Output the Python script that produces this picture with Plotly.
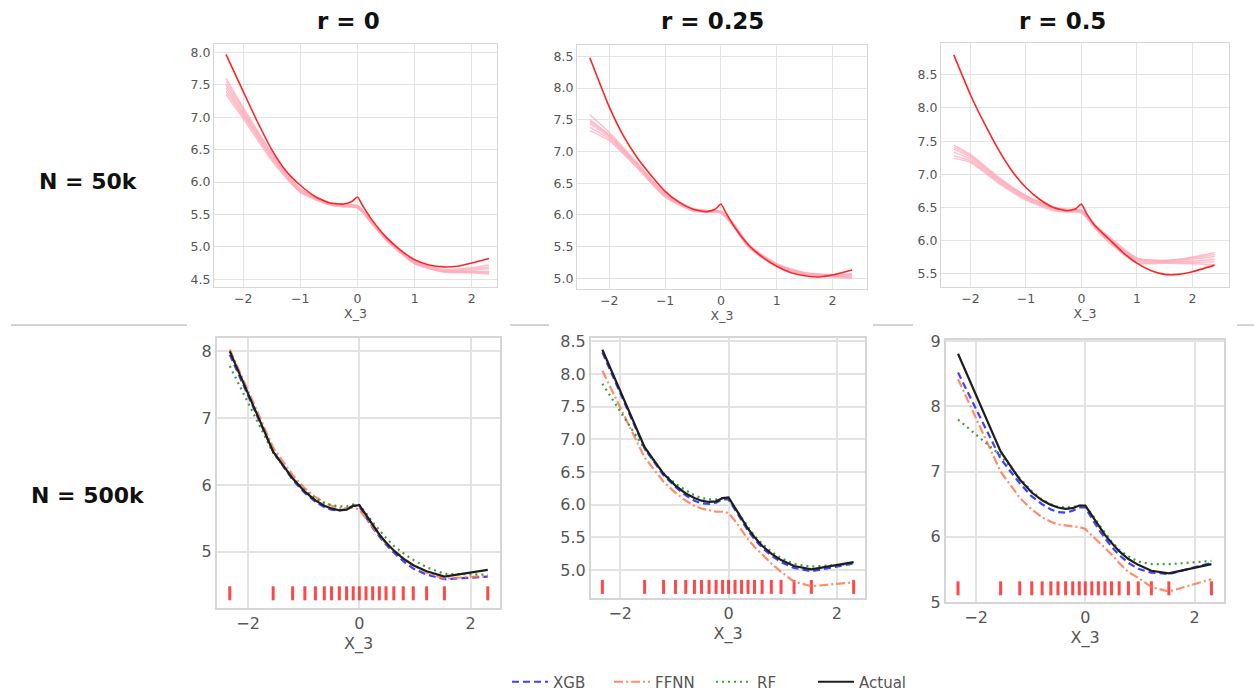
import plotly.graph_objects as go

W, H = 1254, 694

# ---------------- data ----------------
col_titles = ["r = 0", "r = 0.25", "r = 0.5"]
row_titles = ["N = 50k", "N = 500k"]
x_label = "X_3"

# top row: actual (red) curves
top_x = [
    [-2.3, -2.0, -1.75, -1.5, -1.25, -1.0, -0.75, -0.5, -0.25, -0.1, 0.0, 0.1, 0.25, 0.5, 0.75, 1.0, 1.25, 1.5, 1.75, 2.0, 2.3],
    [-2.35, -2.0, -1.75, -1.5, -1.25, -1.0, -0.75, -0.5, -0.25, -0.1, 0.0, 0.1, 0.25, 0.5, 0.75, 1.0, 1.25, 1.5, 1.75, 2.0, 2.35],
    [-2.3, -2.0, -1.75, -1.5, -1.25, -1.0, -0.75, -0.5, -0.25, -0.1, 0.0, 0.1, 0.25, 0.5, 0.75, 1.0, 1.25, 1.5, 1.75, 2.0, 2.4],
]
top_actual = [
    [7.97, 7.40, 6.93, 6.50, 6.17, 5.95, 5.78, 5.68, 5.66, 5.70, 5.77, 5.62, 5.42, 5.15, 4.95, 4.80, 4.72, 4.69, 4.70, 4.75, 4.82],
    [8.48, 7.70, 7.25, 6.90, 6.62, 6.37, 6.20, 6.09, 6.05, 6.09, 6.17, 6.02, 5.80, 5.52, 5.33, 5.19, 5.09, 5.04, 5.02, 5.05, 5.13],
    [8.80, 8.20, 7.77, 7.38, 7.05, 6.80, 6.62, 6.50, 6.45, 6.48, 6.55, 6.40, 6.22, 6.02, 5.82, 5.66, 5.55, 5.49, 5.49, 5.53, 5.63],
]

# top row: model (pink) curves
pink_x = [
    [-2.3, -2.0, -1.5, -1.0, -0.5, -0.25, 0.0, 0.25, 0.5, 1.0, 1.5, 2.0, 2.3],
    [-2.35, -2.0, -1.5, -1.0, -0.5, -0.25, 0.0, 0.25, 0.5, 1.0, 1.5, 2.0, 2.35],
    [-2.3, -2.0, -1.5, -1.0, -0.5, -0.25, 0.0, 0.25, 0.5, 1.0, 1.5, 2.0, 2.4],
]
pink_p1 = [
    [7.60, 7.15, 6.45, 5.90, 5.68, 5.65, 5.64, 5.40, 5.15, 4.78, 4.65, 4.68, 4.72],
    [7.50, 7.08, 6.40, 5.88, 5.67, 5.64, 5.62, 5.38, 5.12, 4.76, 4.63, 4.64, 4.66],
    [7.45, 7.05, 6.38, 5.86, 5.66, 5.63, 5.60, 5.37, 5.12, 4.75, 4.62, 4.62, 4.62],
    [7.40, 7.02, 6.36, 5.85, 5.66, 5.62, 5.60, 5.36, 5.10, 4.74, 4.61, 4.60, 4.58],
    [7.55, 7.12, 6.43, 5.89, 5.68, 5.66, 5.63, 5.40, 5.14, 4.77, 4.64, 4.66, 4.69],
    [7.35, 6.98, 6.33, 5.84, 5.65, 5.62, 5.61, 5.36, 5.11, 4.74, 4.62, 4.61, 4.60],
]
pink_p2 = [
    [7.58, 7.30, 6.82, 6.34, 6.10, 6.07, 6.06, 5.84, 5.53, 5.23, 5.09, 5.06, 5.07],
    [7.50, 7.26, 6.80, 6.32, 6.09, 6.06, 6.05, 5.82, 5.51, 5.22, 5.08, 5.05, 5.05],
    [7.44, 7.23, 6.78, 6.31, 6.08, 6.06, 6.04, 5.81, 5.50, 5.21, 5.07, 5.04, 5.03],
    [7.38, 7.20, 6.76, 6.29, 6.07, 6.05, 6.04, 5.80, 5.49, 5.20, 5.07, 5.03, 5.01],
    [7.33, 7.17, 6.74, 6.28, 6.06, 6.04, 6.03, 5.79, 5.48, 5.19, 5.06, 5.02, 5.00],
    [7.47, 7.25, 6.79, 6.32, 6.09, 6.06, 6.05, 5.82, 5.51, 5.22, 5.08, 5.05, 5.06],
]
pink_p3 = [
    [7.44, 7.30, 6.96, 6.68, 6.50, 6.47, 6.46, 6.24, 6.06, 5.74, 5.70, 5.75, 5.82],
    [7.38, 7.26, 6.93, 6.66, 6.49, 6.46, 6.45, 6.22, 6.03, 5.72, 5.69, 5.72, 5.76],
    [7.33, 7.23, 6.91, 6.64, 6.48, 6.45, 6.44, 6.20, 6.01, 5.70, 5.68, 5.69, 5.72],
    [7.28, 7.20, 6.89, 6.63, 6.47, 6.44, 6.43, 6.19, 5.99, 5.68, 5.67, 5.67, 5.68],
    [7.24, 7.18, 6.87, 6.61, 6.45, 6.43, 6.42, 6.18, 5.97, 5.66, 5.66, 5.65, 5.64],
    [7.41, 7.28, 6.94, 6.67, 6.50, 6.47, 6.45, 6.23, 6.04, 5.73, 5.70, 5.74, 5.79],
]
top_pink = [pink_p1, pink_p2, pink_p3]

# bottom row: grid points (also shown as rug ticks)
grid_x = [-2.33, -1.55, -1.20, -0.98, -0.79, -0.63, -0.50, -0.36, -0.23, -0.11, 0.0,
          0.12, 0.24, 0.36, 0.48, 0.62, 0.79, 0.97, 1.21, 1.53, 2.31]
rug_level = [4.38, 4.74, 5.21]

series_names = ["XGB", "FFNN", "RF", "Actual"]
xgb = [
    [7.95, 6.50, 6.08, 5.88, 5.75, 5.67, 5.63, 5.62, 5.64, 5.69, 5.68, 5.52, 5.36, 5.23, 5.11, 4.99, 4.86, 4.75, 4.66, 4.59, 4.63],
    [8.33, 6.86, 6.45, 6.27, 6.14, 6.06, 6.02, 6.01, 6.03, 6.08, 6.08, 5.92, 5.75, 5.60, 5.47, 5.34, 5.22, 5.12, 5.03, 4.98, 5.10],
    [8.52, 7.20, 6.82, 6.62, 6.50, 6.42, 6.38, 6.37, 6.40, 6.45, 6.45, 6.28, 6.12, 5.98, 5.85, 5.72, 5.60, 5.51, 5.45, 5.43, 5.60],
]
ffnn = [
    [8.03, 6.56, 6.15, 5.95, 5.82, 5.74, 5.69, 5.66, 5.65, 5.66, 5.63, 5.50, 5.36, 5.24, 5.13, 5.02, 4.91, 4.80, 4.69, 4.60, 4.64],
    [8.05, 6.72, 6.35, 6.18, 6.06, 5.98, 5.94, 5.91, 5.89, 5.89, 5.87, 5.75, 5.60, 5.47, 5.35, 5.23, 5.10, 4.97, 4.82, 4.75, 4.81],
    [8.42, 7.00, 6.60, 6.42, 6.30, 6.23, 6.19, 6.17, 6.16, 6.15, 6.12, 6.02, 5.93, 5.83, 5.73, 5.60, 5.46, 5.37, 5.23, 5.16, 5.35],
]
rf = [
    [7.78, 6.48, 6.10, 5.92, 5.80, 5.73, 5.70, 5.68, 5.68, 5.71, 5.70, 5.58, 5.44, 5.32, 5.21, 5.09, 4.98, 4.88, 4.77, 4.67, 4.66],
    [7.85, 6.85, 6.48, 6.32, 6.22, 6.14, 6.10, 6.08, 6.08, 6.10, 6.08, 5.95, 5.80, 5.65, 5.52, 5.40, 5.28, 5.18, 5.09, 5.05, 5.09],
    [7.80, 7.25, 6.90, 6.70, 6.57, 6.50, 6.46, 6.45, 6.46, 6.48, 6.47, 6.35, 6.20, 6.06, 5.93, 5.80, 5.70, 5.62, 5.58, 5.58, 5.63],
]
actual = [
    [8.00, 6.50, 6.10, 5.90, 5.77, 5.69, 5.65, 5.62, 5.63, 5.69, 5.70, 5.55, 5.39, 5.26, 5.14, 5.02, 4.90, 4.80, 4.71, 4.63, 4.73],
    [8.37, 6.88, 6.47, 6.29, 6.17, 6.10, 6.06, 6.04, 6.05, 6.10, 6.11, 5.95, 5.78, 5.63, 5.50, 5.37, 5.25, 5.15, 5.06, 5.01, 5.12],
    [8.81, 7.31, 6.88, 6.68, 6.56, 6.49, 6.45, 6.43, 6.44, 6.48, 6.48, 6.33, 6.17, 6.03, 5.91, 5.78, 5.66, 5.57, 5.48, 5.44, 5.58],
]

# ---------------- layout geometry (pixels) ----------------
boxes = [  # (left, right, top, bottom)
    (214, 497, 44, 287), (577, 867, 45, 289), (941, 1229, 43, 287),
    (217, 500, 338, 608), (591, 865, 338, 598), (946, 1224, 340, 602),
]
xranges = [[-2.51, 2.44], [-2.58, 2.62], [-2.53, 2.66], [-2.56, 2.53], [-2.54, 2.52], [-2.55, 2.54]]
yranges = [[4.38, 8.13], [4.83, 8.68], [5.30, 8.98], [4.16, 8.2], [4.57, 8.55], [5.0, 9.02]]
ydticks = [0.5, 0.5, 0.5, 1, 0.5, 1]

fig = go.Figure()
TICK = "#555555"
FONT = "DejaVu Sans"

layout_axes = {}
for i, (l, r, t, b) in enumerate(boxes):
    k = "" if i == 0 else str(i + 1)
    top = i < 3
    fs = 12.5 if top else 16
    layout_axes["xaxis" + k] = dict(
        domain=[l / W, r / W], range=xranges[i], anchor="y" + k, automargin=False,
        dtick=1 if top else 2, tick0=0, showgrid=True,
        gridcolor="#e3e3e3", gridwidth=1 if top else 1.5,
        showline=True, mirror=True, linecolor="#d6d6d6", linewidth=1 if top else 2,
        zeroline=False, ticks="", tickfont=dict(family=FONT, size=fs, color=TICK),
        title=dict(text=x_label, font=dict(family=FONT, size=fs, color=TICK), standoff=3 if top else 6),
    )
    layout_axes["yaxis" + k] = dict(
        domain=[1 - b / H, 1 - t / H], range=yranges[i], anchor="x" + k, automargin=False,
        dtick=ydticks[i], tick0=0, tickformat=".1f" if ydticks[i] < 1 else "d",
        showgrid=True, gridcolor="#e3e3e3", gridwidth=1 if top else 1.5,
        showline=True, mirror=True, linecolor="#d6d6d6", linewidth=1 if top else 2,
        zeroline=False, ticks="", tickfont=dict(family=FONT, size=fs, color=TICK),
    )

# top row traces
for i in range(3):
    k = "" if i == 0 else str(i + 1)
    for ys in top_pink[i]:
        fig.add_trace(go.Scatter(x=pink_x[i], y=ys, mode="lines", xaxis="x" + k, yaxis="y" + k,
                                 line=dict(color="rgba(255,170,185,0.75)", width=1.5, shape="spline", smoothing=0.6),
                                 showlegend=False, hoverinfo="skip"))
    fig.add_trace(go.Scatter(x=top_x[i], y=top_actual[i], mode="lines", xaxis="x" + k, yaxis="y" + k,
                             line=dict(color="#ff2424", width=1.6, shape="spline", smoothing=0.5),
                             showlegend=False))

# bottom row traces
styles = {
    "XGB": dict(color="rgba(30,30,255,0.85)", width=2.2, dash="7px,4px"),
    "FFNN": dict(color="rgba(255,120,80,0.85)", width=2.2, dash="9px,3px,2px,3px"),
    "RF": dict(color="rgba(40,150,40,0.9)", width=2.2, dash="2px,4px"),
    "Actual": dict(color="#1e1e1e", width=2.2),
}
for j in range(3):
    i = j + 3
    k = str(i + 1)
    fig.add_trace(go.Scatter(x=grid_x, y=[rug_level[j]] * len(grid_x), mode="markers",
                             xaxis="x" + k, yaxis="y" + k, showlegend=False, hoverinfo="x",
                             marker=dict(symbol="line-ns", size=10,
                                         line=dict(width=3, color="rgba(255,40,40,0.85)"))))
    for name, vals in zip(series_names, [xgb, ffnn, rf, actual]):
        fig.add_trace(go.Scatter(x=grid_x, y=vals[j], mode="lines", name=name,
                                 xaxis="x" + k, yaxis="y" + k, line=styles[name],
                                 showlegend=(j == 0), legendgroup=name))

annotations = []
title_x = [348, 712, 1062]
for t, cx in zip(col_titles, title_x):
    annotations.append(dict(text=t, x=cx / W, y=1 - 21 / H, xref="paper", yref="paper",
                            showarrow=False, xanchor="center", yanchor="middle",
                            font=dict(family=FONT, size=23, color="#111111", weight="bold")))
for t, cy in zip(row_titles, [182, 495]):
    annotations.append(dict(text=t, x=88 / W, y=1 - cy / H, xref="paper", yref="paper",
                            showarrow=False, xanchor="center", yanchor="middle",
                            font=dict(family=FONT, size=22, color="#111111", weight="bold")))

shapes = []
for x0, x1 in [(11, 187), (510, 549), (873, 913), (1237, 1254)]:
    shapes.append(dict(type="line", xref="paper", yref="paper", x0=x0 / W, x1=x1 / W,
                       y0=1 - 325 / H, y1=1 - 325 / H, line=dict(color="#d4d4d4", width=2)))

fig.update_layout(
    width=W, height=H, margin=dict(l=0, r=0, t=0, b=0, autoexpand=False),
    paper_bgcolor="white", plot_bgcolor="white",
    annotations=annotations, shapes=shapes,
    legend=dict(orientation="h", x=711 / W, xanchor="center", y=1 - 682 / H, yanchor="middle",
                font=dict(family=FONT, size=15, color=TICK), bgcolor="rgba(0,0,0,0)",
                entrywidth=51, itemwidth=36),
    **layout_axes,
)

fig.write_html("out.html", config={"displayModeBar": False},
               post_script="document.body.style.margin='0';document.body.style.overflow='hidden';")
